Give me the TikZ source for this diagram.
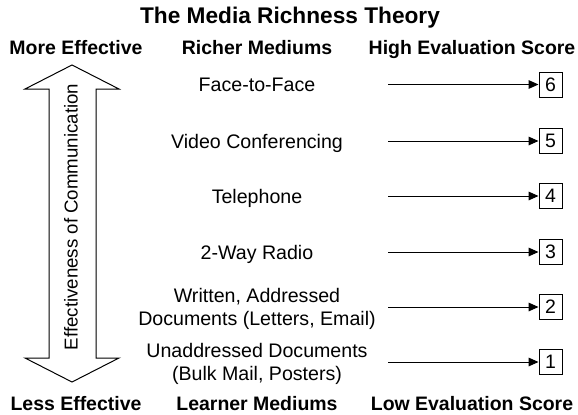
\documentclass[tikz,border=0pt]{standalone}
\usepackage{fontspec}
\setmainfont{Liberation Sans}
\usetikzlibrary{arrows.meta}
\begin{document}
\begin{tikzpicture}[x=0.75pt,y=-0.75pt,
  titlestyle/.style={font=\fontsize{17}{20}\selectfont\bfseries, anchor=base, inner sep=0},
  hdr/.style={font=\fontsize{14.6}{17}\selectfont\bfseries, anchor=base, inner sep=0},
  medone/.style={font=\fontsize{14.7}{17.25}\selectfont, anchor=base, inner sep=0},
  medtwo/.style={font=\fontsize{14.7}{17.25}\selectfont, align=center, inner sep=0},
  score/.style={draw, line width=0.75pt, minimum width=17.25pt, minimum height=18.75pt, inner sep=0, font=\fontsize{14.6}{17}\selectfont},
  conn/.style={line width=0.75pt, -{Triangle[length=7.5pt,width=6.5pt]}},
  bigarrow/.style={draw, line width=0.75pt, fill=white}]
\useasboundingbox (0,0) rectangle (578,414);

% title
\node[titlestyle] (title) at (290,23) {The Media Richness Theory};

% headers
\node[hdr] (more) at (76,54) {More Effective};
\node[hdr] (richer) at (257,54) {Richer Mediums};
\node[hdr] (high) at (472,54) {High Evaluation Score};
\node[hdr] (less) at (76,410) {Less Effective};
\node[hdr] (learner) at (257,410) {Learner Mediums};
\node[hdr] (low) at (472,410) {Low Evaluation Score};

% double arrow
\draw[bigarrow] (72,65) -- (119,89) -- (96,89) -- (96,358) -- (119,358) -- (72,382)
  -- (25,358) -- (49,358) -- (49,89) -- (25,89) -- cycle;
\node[font=\fontsize{14}{16}\selectfont, rotate=90, inner sep=0] (eff) at (71,217) {Effectiveness of Communication};

% mediums
\node[medone] (m6) at (257,91.5) {Face-to-Face};
\node[medone] (m5) at (257,148) {Video Conferencing};
\node[medone] (m4) at (257,203) {Telephone};
\node[medone] (m3) at (257,259) {2-Way Radio};
\node[medtwo] (m2) at (257,308.5) {Written, Addressed\\Documents (Letters, Email)};
\node[medtwo] (m1) at (257,363.5) {Unaddressed Documents\\(Bulk Mail, Posters)};

% scores
\node[score] (s6) at (550.5,84.5) {6};
\node[score] (s5) at (550.5,141) {5};
\node[score] (s4) at (550.5,196) {4};
\node[score] (s3) at (550.5,252) {3};
\node[score] (s2) at (550.5,307) {2};
\node[score] (s1) at (550.5,362) {1};

\coordinate (a6) at (388,84.5);
\coordinate (a5) at (388,141);
\coordinate (a4) at (388,196);
\coordinate (a3) at (388,252);
\coordinate (a2) at (388,307);
\coordinate (a1) at (388,362);
\draw[conn] (a6) -- (s6);
\draw[conn] (a5) -- (s5);
\draw[conn] (a4) -- (s4);
\draw[conn] (a3) -- (s3);
\draw[conn] (a2) -- (s2);
\draw[conn] (a1) -- (s1);
\end{tikzpicture}
\end{document}
